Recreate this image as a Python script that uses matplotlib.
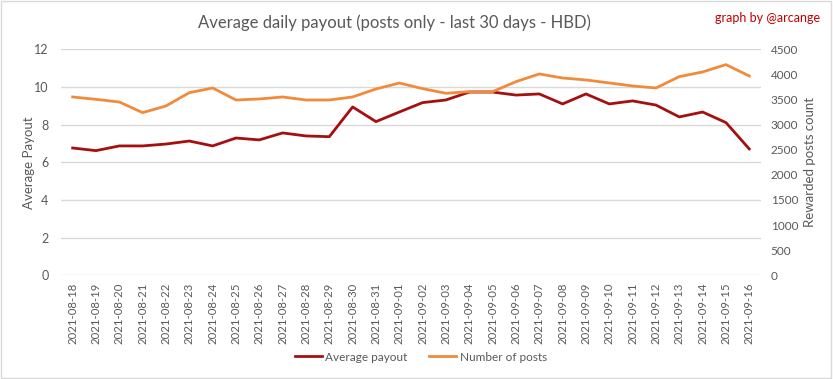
import numpy as np
import matplotlib.pyplot as plt
from matplotlib.patches import Rectangle

dates = ["2021-08-18", "2021-08-19", "2021-08-20", "2021-08-21", "2021-08-22",
         "2021-08-23", "2021-08-24", "2021-08-25", "2021-08-26", "2021-08-27",
         "2021-08-28", "2021-08-29", "2021-08-30", "2021-08-31", "2021-09-01",
         "2021-09-02", "2021-09-03", "2021-09-04", "2021-09-05", "2021-09-06",
         "2021-09-07", "2021-09-08", "2021-09-09", "2021-09-10", "2021-09-11",
         "2021-09-12", "2021-09-13", "2021-09-14", "2021-09-15", "2021-09-16"]

avg_payout = [6.76, 6.62, 6.87, 6.87, 6.97, 7.13, 6.87, 7.29, 7.19, 7.56,
              7.40, 7.36, 8.94, 8.16, 8.67, 9.17, 9.31, 9.73, 9.73, 9.57,
              9.63, 9.10, 9.63, 9.10, 9.26, 9.04, 8.41, 8.67, 8.11, 6.71]

num_posts = [3551, 3504, 3451, 3239, 3372, 3637, 3730, 3491, 3511, 3551,
             3491, 3491, 3551, 3710, 3829, 3717, 3624, 3657, 3657, 3856,
             4009, 3929, 3890, 3830, 3770, 3730, 3956, 4049, 4195, 3969]

plt.rcParams['font.family'] = ['Lato', 'DejaVu Sans']
gray = "#595959"

fig = plt.figure(figsize=(8.33, 3.79), dpi=100)
ax = fig.add_axes([0.0732, 0.2736, 0.8403, 0.5963])
ax2 = ax.twinx()

x = np.arange(len(dates))
l1, = ax.plot(x, avg_payout, color="#a50f0f", lw=2, label="Average payout")
l2, = ax2.plot(x, num_posts, color="#f28a3c", lw=2, label="Number of posts")

ax.set_xlim(-0.5, len(dates) - 0.5)
ax.set_ylim(0, 12)
ax.set_yticks(np.arange(0, 13, 2))
ax2.set_ylim(0, 4500)
ax2.set_yticks(np.arange(0, 4501, 500))
ax.set_xticks(x)
ax.set_xticklabels(dates, rotation=90)

ax.grid(axis="y", color="#d9d9d9", lw=1)
ax.set_axisbelow(True)
for a in (ax, ax2):
    for s in a.spines.values():
        s.set_visible(False)
    a.tick_params(length=0, colors=gray, labelsize=9)
ax.tick_params(axis="x", labelsize=8.2, pad=5)
ax.tick_params(axis="y", pad=9)
ax2.tick_params(axis="y", labelsize=8.5, pad=7)

ax.set_ylabel("Average Payout", color=gray, fontsize=9.5)
ax.yaxis.set_label_coords(-0.037, 0.5)
ax2.set_ylabel("Rewarded posts count", color=gray, fontsize=9.5)
ax2.yaxis.set_label_coords(1.062, 0.5)

fig.text(0.474, 0.94, "Average daily payout (posts only - last 30 days - HBD)",
         ha="center", va="center", color=gray, fontsize=12)
fig.text(0.985, 0.953, "graph by @arcange", ha="right", va="center",
         color="#c00000", fontsize=9)

fig.legend(handles=[l1, l2], loc="center", bbox_to_anchor=(0.505, 0.058),
           ncol=2, frameon=False, fontsize=8.5, labelcolor=gray,
           handlelength=2.3, handletextpad=0.3, columnspacing=1.8)

fig.patches.append(Rectangle((0.001, 0.002), 0.997, 0.995, transform=fig.transFigure,
                             fill=False, edgecolor="#d9d9d9", lw=1))

fig.savefig("out.png", dpi=100)
